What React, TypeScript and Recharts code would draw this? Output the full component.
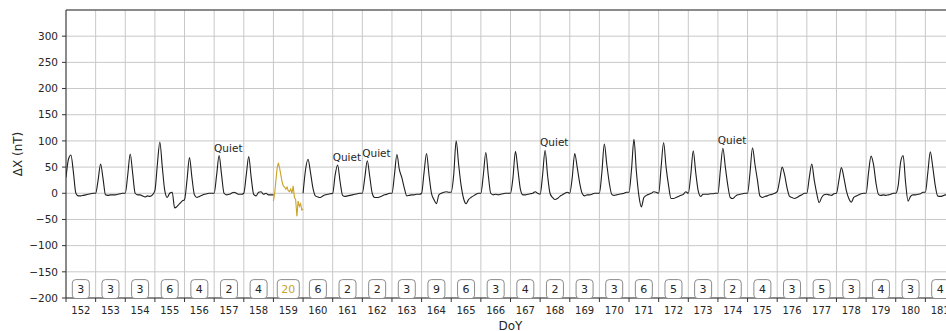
import { ComposedChart, Line, Scatter, XAxis, YAxis, CartesianGrid, ReferenceLine } from "recharts";

// DoY axis, 2-hourly samples of the magnetometer X component
const START_DAY = 152;
const END_DAY = 182;
const SAMPLES_PER_DAY = 12;
const STORM_DAY = 159;

// ΔX (nT), one row per day, 00h..22h every 2 hours
const dxRows: (number | null)[][] = [
  /*152*/ [30, 65, 73, 40, 0, -5, -5, -4, -3, -2, -1, 0],
  /*153*/ [0, 25, 56, 28, -3, -4, -3, -3, -3, -2, -1, 0],
  /*154*/ [0, 35, 75, 38, 0, -3, -3, -5, -7, -5, -6, -3],
  /*155*/ [5, 55, 98, 50, 5, -8, 0, 2, -28, -25, -20, -15],
  /*156*/ [-12, 25, 68, 30, -3, -8, -6, -4, -2, -1, 0, 0],
  /*157*/ [0, 35, 72, 35, 0, -3, -2, 0, 2, 0, -2, -2],
  /*158*/ [0, 35, 70, 30, -2, -5, 2, 3, -2, 0, -3, -3],
  /*159*/ [-3, null, null, null, null, null, null, null, null, null, null, null],
  /*160*/ [0, 45, 65, 40, 10, -5, -7, -8, -5, -3, -2, -1],
  /*161*/ [0, 35, 54, 22, -4, -6, -5, -4, -3, -2, -1, 0],
  /*162*/ [0, 30, 62, 32, 0, -8, -8, -7, -5, -3, -2, 0],
  /*163*/ [0, 35, 74, 45, 30, 10, -5, -4, -3, -3, -2, -2],
  /*164*/ [0, 40, 76, 35, 0, -12, -20, -3, 0, 2, 3, 2],
  /*165*/ [2, 35, 100, 55, 15, -10, -20, -12, -8, -5, -2, 0],
  /*166*/ [0, 35, 78, 35, 0, -3, -2, -3, -2, -1, 0, 0],
  /*167*/ [0, 30, 80, 45, 8, -3, -3, -2, -1, 0, 3, 0],
  /*168*/ [-2, 35, 82, 35, 0, -8, -12, -10, -6, -3, 0, 2],
  /*169*/ [0, 30, 76, 50, 20, 0, -5, -3, -3, -2, 0, 0],
  /*170*/ [0, 40, 94, 55, 20, -2, -4, -3, -2, -1, 0, 2],
  /*171*/ [2, 45, 103, 40, -5, -26, -8, -4, -2, 0, 3, 2],
  /*172*/ [0, 50, 97, 50, 15, -10, -10, -8, -6, -4, -2, 3],
  /*173*/ [0, 35, 81, 40, 5, -6, -2, -2, -2, -1, -1, 0],
  /*174*/ [0, 45, 86, 50, 15, -8, -10, -6, -3, -2, -1, 0],
  /*175*/ [0, 40, 87, 55, 25, -5, -8, -6, -5, -3, -2, 0],
  /*176*/ [3, 25, 50, 35, 10, -6, -8, -10, -8, -5, -3, 0],
  /*177*/ [0, 30, 56, 25, 0, -18, -8, -3, -2, -3, -4, -1],
  /*178*/ [0, 25, 49, 30, 5, -10, -17, -8, -5, -3, -1, 0],
  /*179*/ [0, 40, 71, 55, 20, -2, -4, -3, -4, -3, -2, 0],
  /*180*/ [0, 15, 60, 72, 20, -15, -6, -3, -3, -2, -1, 2],
  /*181*/ [2, 40, 79, 50, 15, -5, -6, -5, -3, -3, -2, 0],
];
const dxEnd = 0; // 182.0

// disturbed day 159, hourly 00h..24h
const dxStorm = [-15, 0, 25, 48, 58, 48, 35, 22, 14, 12, 8, 12, 5, 3, 8, 0, 14, -8, -12, -44, -15, -25, -20, -32, -30];

// daily activity index shown in the boxes, one per day 152..181
const dailyIndex = [3, 3, 3, 6, 4, 2, 4, 20, 6, 2, 2, 3, 9, 6, 3, 4, 2, 3, 3, 6, 5, 3, 2, 4, 3, 5, 3, 4, 3, 4];

const quietDays = [157, 161, 162, 168, 174];

const yTicks = [-200, -150, -100, -50, 0, 50, 100, 150, 200, 250, 300];
const dayTicks = Array.from({ length: END_DAY - START_DAY }, (_, i) => START_DAY + i);

const CHART_W = 966;
const CHART_H = 331;
const MARGIN = { top: 10, right: 11, bottom: 0, left: 0 };
const Y_AXIS_W = 66;
const X_AXIS_H = 33;
const PLOT_W = CHART_W - Y_AXIS_W - MARGIN.left - MARGIN.right;
const DAY_PX = PLOT_W / (END_DAY - START_DAY);
const BOX_Y = -183;

const GOLD = "#c9a227";
const INK = "#262626";
const FONT = '"DejaVu Sans", sans-serif';

const flat = dxRows.flat();
const blackData = flat.concat(dxEnd).map((v, i) => ({ t: START_DAY + i / SAMPLES_PER_DAY, v }));
const stormData = dxStorm.map((v, i) => ({ t: STORM_DAY + i / 24, v }));

const quietData = quietDays.map(d => {
  const i0 = (d - START_DAY) * SAMPLES_PER_DAY;
  let best = i0;
  for (let i = i0; i < i0 + SAMPLES_PER_DAY; i++) if ((flat[i] ?? -999) > (flat[best] ?? -999)) best = i;
  return { t: START_DAY + best / SAMPLES_PER_DAY, v: flat[best] as number };
});

const boxData = dailyIndex.map((n, i) => ({ t: START_DAY + i + 0.5, v: BOX_Y, n, storm: START_DAY + i === STORM_DAY }));

function DayTick(props: any) {
  const { x, y, payload } = props;
  return (
    <g>
      <line x1={x} x2={x} y1={y} y2={y + 4} stroke="#333" />
      <text x={x + DAY_PX / 2} y={y + 15.5} textAnchor="middle" fontSize={10} fill={INK} fontFamily={FONT}>
        {payload.value}
      </text>
    </g>
  );
}

function IndexBox(props: any) {
  const { cx, cy, payload } = props;
  const label = String(payload.n);
  const w = label.length > 1 ? 22 : 17;
  return (
    <g>
      <rect x={cx - w / 2} y={cy - 9.5} width={w} height={19} rx={3.5} fill="#fff" stroke="#8c8c8c" />
      <text x={cx} y={cy + 4} textAnchor="middle" fontSize={11} fontFamily={FONT}
        fill={payload.storm ? GOLD : INK}>{label}</text>
    </g>
  );
}

function QuietLabel(props: any) {
  const { cx, cy } = props;
  return <text x={cx - 5} y={cy - 4} fontSize={10.5} fontFamily={FONT} fill={INK}>Quiet</text>;
}

const fmtY = (v: number) => (v < 0 ? `\u2212${-v}` : `${v}`);

export default function App() {
  return (
    <div style={{ position: "absolute", left: 0, top: 0, width: 946, height: 331, overflow: "hidden", background: "#fff", fontFamily: FONT }}>
      <ComposedChart width={CHART_W} height={CHART_H} margin={MARGIN}>
        <CartesianGrid stroke="#c8c8c8" />
        <XAxis dataKey="t" type="number" domain={[START_DAY, END_DAY]} ticks={dayTicks} interval={0}
          allowDataOverflow height={X_AXIS_H} tickSize={0} tickMargin={0} tick={<DayTick />}
          axisLine={{ stroke: "#333" }}
          label={{ value: "DoY", position: "insideBottom", offset: 1.5, fontSize: 12, fill: INK, fontFamily: FONT }} />
        <YAxis dataKey="v" type="number" domain={[-200, 350]} ticks={yTicks} interval={0} allowDataOverflow
          width={Y_AXIS_W} tickSize={4} tickMargin={4} tickFormatter={fmtY}
          tick={{ fontSize: 10.5, fill: INK, fontFamily: FONT }}
          axisLine={{ stroke: "#333" }} tickLine={{ stroke: "#333" }}
          label={{
            content: (p: any) => {
              const vb = p.viewBox ?? { y: MARGIN.top, height: 288 };
              const cx = 17.5;
              const cy = vb.y + vb.height / 2;
              return (
                <text x={cx} y={cy} transform={`rotate(-90 ${cx} ${cy})`} textAnchor="middle"
                  dominantBaseline="central" fontSize={12} fill={INK} fontFamily={FONT}>ΔX (nT)</text>
              );
            },
          }} />
        <ReferenceLine y={350} stroke="#333" />
        <Line data={blackData} dataKey="v" type="monotone" stroke="#1e1e1e" strokeWidth={1.1}
          dot={false} isAnimationActive={false} connectNulls={false} />
        <Line data={stormData} dataKey="v" type="linear" stroke={GOLD} strokeWidth={1.1}
          dot={false} isAnimationActive={false} />
        <Scatter data={quietData} dataKey="v" shape={<QuietLabel />} isAnimationActive={false} />
        <Scatter data={boxData} dataKey="v" shape={<IndexBox />} isAnimationActive={false} />
      </ComposedChart>
    </div>
  );
}
